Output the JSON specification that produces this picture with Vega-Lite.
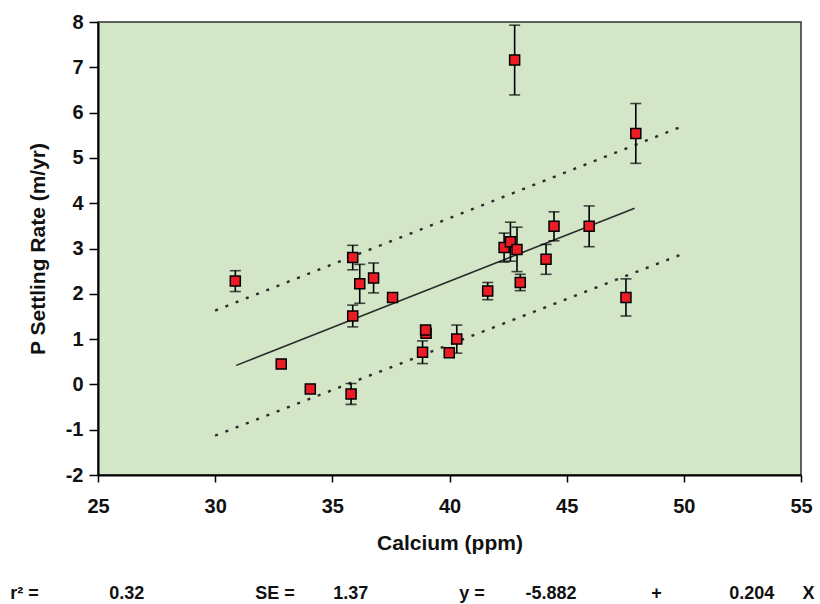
{
  "$schema": "https://vega.github.io/schema/vega-lite/v6.json",
  "width": 703,
  "height": 453,
  "autosize": {"type": "none"},
  "padding": {"left": 98, "top": 22, "right": 19, "bottom": 129},
  "background": "white",
  "config": {
    "font": "Liberation Sans",
    "view": {"fill": "#d3e6c8", "stroke": "#333333", "strokeWidth": 1.5},
    "axis": {
      "grid": false,
      "labelFlush": false,
      "labelOverlap": false,
      "labelBound": false,
      "domainColor": "black",
      "domainWidth": 2,
      "tickColor": "black",
      "tickWidth": 1.5,
      "labelFont": "Liberation Sans",
      "labelFontSize": 20,
      "labelFontWeight": "bold",
      "labelColor": "#111111",
      "titleFont": "Liberation Sans",
      "titleFontSize": 21,
      "titleFontWeight": "bold",
      "titleColor": "#111111"
    }
  },
  "datasets": {
    "pts": [
      {"ca": 30.86, "p": 2.28, "lo": 2.05, "hi": 2.51},
      {"ca": 35.87, "p": 2.80, "lo": 2.53, "hi": 3.07},
      {"ca": 36.17, "p": 2.22, "lo": 1.79, "hi": 2.65},
      {"ca": 36.76, "p": 2.35, "lo": 2.02, "hi": 2.68},
      {"ca": 37.57, "p": 1.92, "lo": 1.86, "hi": 1.98},
      {"ca": 35.87, "p": 1.51, "lo": 1.27, "hi": 1.75},
      {"ca": 39.00, "p": 1.13, "lo": 1.05, "hi": 1.21},
      {"ca": 38.98, "p": 1.20, "lo": 1.14, "hi": 1.26},
      {"ca": 38.85, "p": 0.71, "lo": 0.46, "hi": 0.96},
      {"ca": 32.82, "p": 0.45, "lo": 0.40, "hi": 0.50},
      {"ca": 34.06, "p": -0.10, "lo": -0.15, "hi": -0.05},
      {"ca": 35.80, "p": -0.21, "lo": -0.44, "hi": 0.02},
      {"ca": 39.99, "p": 0.70, "lo": 0.65, "hi": 0.75},
      {"ca": 40.31, "p": 1.00, "lo": 0.69, "hi": 1.31},
      {"ca": 41.63, "p": 2.06, "lo": 1.87, "hi": 2.25},
      {"ca": 43.02, "p": 2.25, "lo": 2.07, "hi": 2.43},
      {"ca": 47.53, "p": 1.92, "lo": 1.51, "hi": 2.33},
      {"ca": 44.12, "p": 2.76, "lo": 2.43, "hi": 3.09},
      {"ca": 44.46, "p": 3.49, "lo": 3.17, "hi": 3.81},
      {"ca": 45.96, "p": 3.49, "lo": 3.04, "hi": 3.94},
      {"ca": 42.33, "p": 3.02, "lo": 2.70, "hi": 3.34},
      {"ca": 42.60, "p": 3.15, "lo": 2.72, "hi": 3.58},
      {"ca": 42.88, "p": 2.98, "lo": 2.49, "hi": 3.47},
      {"ca": 42.78, "p": 7.16, "lo": 6.39, "hi": 7.93},
      {"ca": 47.95, "p": 5.54, "lo": 4.88, "hi": 6.20}
    ],
    "fit": [{"ca": 30.9, "p": 0.42}, {"ca": 47.9, "p": 3.89}],
    "upper": [{"ca": 30, "p": 1.63}, {"ca": 50, "p": 5.71}],
    "lower": [{"ca": 30, "p": -1.13}, {"ca": 50, "p": 2.89}]
  },
  "layer": [
    {
      "data": {"name": "upper"},
      "mark": {"type": "line", "color": "#2b2b2b", "strokeWidth": 2.4, "strokeDash": [3, 8]},
      "encoding": {
        "x": {"field": "ca", "type": "quantitative",
          "scale": {"domain": [25, 55], "nice": false, "zero": false},
          "axis": {"values": [25, 30, 35, 40, 45, 50, 55], "labelExpr": "'' + datum.value", "tickSize": 7, "labelPadding": 14, "title": "Calcium (ppm)", "titlePadding": 16}},
        "y": {"field": "p", "type": "quantitative",
          "scale": {"domain": [-2, 8], "nice": false, "zero": false},
          "axis": {"values": [-2, -1, 0, 1, 2, 3, 4, 5, 6, 7, 8], "labelExpr": "'' + datum.value", "tickSize": 9, "labelPadding": 6, "title": "P Settling Rate (m/yr)", "titlePadding": 17}}
      }
    },
    {
      "data": {"name": "lower"},
      "mark": {"type": "line", "color": "#2b2b2b", "strokeWidth": 2.4, "strokeDash": [3, 8]},
      "encoding": {
        "x": {"field": "ca", "type": "quantitative"},
        "y": {"field": "p", "type": "quantitative"}
      }
    },
    {
      "data": {"name": "fit"},
      "mark": {"type": "line", "color": "#2b2b2b", "strokeWidth": 1.6},
      "encoding": {
        "x": {"field": "ca", "type": "quantitative"},
        "y": {"field": "p", "type": "quantitative"}
      }
    },
    {
      "data": {"name": "pts"},
      "mark": {"type": "rule", "color": "black", "strokeWidth": 1.6},
      "encoding": {
        "x": {"field": "ca", "type": "quantitative"},
        "y": {"field": "lo", "type": "quantitative"},
        "y2": {"field": "hi"}
      }
    },
    {
      "data": {"name": "pts"},
      "mark": {"type": "tick", "orient": "horizontal", "color": "black", "size": 11, "thickness": 1.6},
      "encoding": {
        "x": {"field": "ca", "type": "quantitative"},
        "y": {"field": "lo", "type": "quantitative"}
      }
    },
    {
      "data": {"name": "pts"},
      "mark": {"type": "tick", "orient": "horizontal", "color": "black", "size": 11, "thickness": 1.6},
      "encoding": {
        "x": {"field": "ca", "type": "quantitative"},
        "y": {"field": "hi", "type": "quantitative"}
      }
    },
    {
      "data": {"name": "pts"},
      "mark": {"type": "point", "shape": "square", "filled": true, "fill": "#ec1c24", "fillOpacity": 1, "stroke": "black", "strokeWidth": 1.5, "size": 100, "opacity": 1},
      "encoding": {
        "x": {"field": "ca", "type": "quantitative"},
        "y": {"field": "p", "type": "quantitative"}
      }
    },
    {
      "data": {"values": [{}]},
      "mark": {"type": "text", "text": "r² =", "align": "left", "baseline": "alphabetic", "fontSize": 18, "fontWeight": "bold", "color": "#111111"},
      "encoding": {"x": {"datum": 21.26, "type": "quantitative"}, "y": {"datum": -4.74, "type": "quantitative"}}
    },
    {
      "data": {"values": [{}]},
      "mark": {"type": "text", "text": "0.32", "align": "left", "baseline": "alphabetic", "fontSize": 18, "fontWeight": "bold", "color": "#111111"},
      "encoding": {"x": {"datum": 25.48, "type": "quantitative"}, "y": {"datum": -4.74, "type": "quantitative"}}
    },
    {
      "data": {"values": [{}]},
      "mark": {"type": "text", "text": "SE =", "align": "left", "baseline": "alphabetic", "fontSize": 18, "fontWeight": "bold", "color": "#111111"},
      "encoding": {"x": {"datum": 31.71, "type": "quantitative"}, "y": {"datum": -4.74, "type": "quantitative"}}
    },
    {
      "data": {"values": [{}]},
      "mark": {"type": "text", "text": "1.37", "align": "left", "baseline": "alphabetic", "fontSize": 18, "fontWeight": "bold", "color": "#111111"},
      "encoding": {"x": {"datum": 35.04, "type": "quantitative"}, "y": {"datum": -4.74, "type": "quantitative"}}
    },
    {
      "data": {"values": [{}]},
      "mark": {"type": "text", "text": "y  =", "align": "left", "baseline": "alphabetic", "fontSize": 18, "fontWeight": "bold", "color": "#111111"},
      "encoding": {"x": {"datum": 40.42, "type": "quantitative"}, "y": {"datum": -4.74, "type": "quantitative"}}
    },
    {
      "data": {"values": [{}]},
      "mark": {"type": "text", "text": "-5.882", "align": "left", "baseline": "alphabetic", "fontSize": 18, "fontWeight": "bold", "color": "#111111"},
      "encoding": {"x": {"datum": 43.24, "type": "quantitative"}, "y": {"datum": -4.74, "type": "quantitative"}}
    },
    {
      "data": {"values": [{}]},
      "mark": {"type": "text", "text": "+", "align": "center", "baseline": "alphabetic", "fontSize": 18, "fontWeight": "bold", "color": "#111111"},
      "encoding": {"x": {"datum": 48.83, "type": "quantitative"}, "y": {"datum": -4.74, "type": "quantitative"}}
    },
    {
      "data": {"values": [{}]},
      "mark": {"type": "text", "text": "0.204", "align": "left", "baseline": "alphabetic", "fontSize": 18, "fontWeight": "bold", "color": "#111111"},
      "encoding": {"x": {"datum": 51.94, "type": "quantitative"}, "y": {"datum": -4.74, "type": "quantitative"}}
    },
    {
      "data": {"values": [{}]},
      "mark": {"type": "text", "text": "X", "align": "left", "baseline": "alphabetic", "fontSize": 18, "fontWeight": "bold", "color": "#111111"},
      "encoding": {"x": {"datum": 55.06, "type": "quantitative"}, "y": {"datum": -4.74, "type": "quantitative"}}
    }
  ]
}
